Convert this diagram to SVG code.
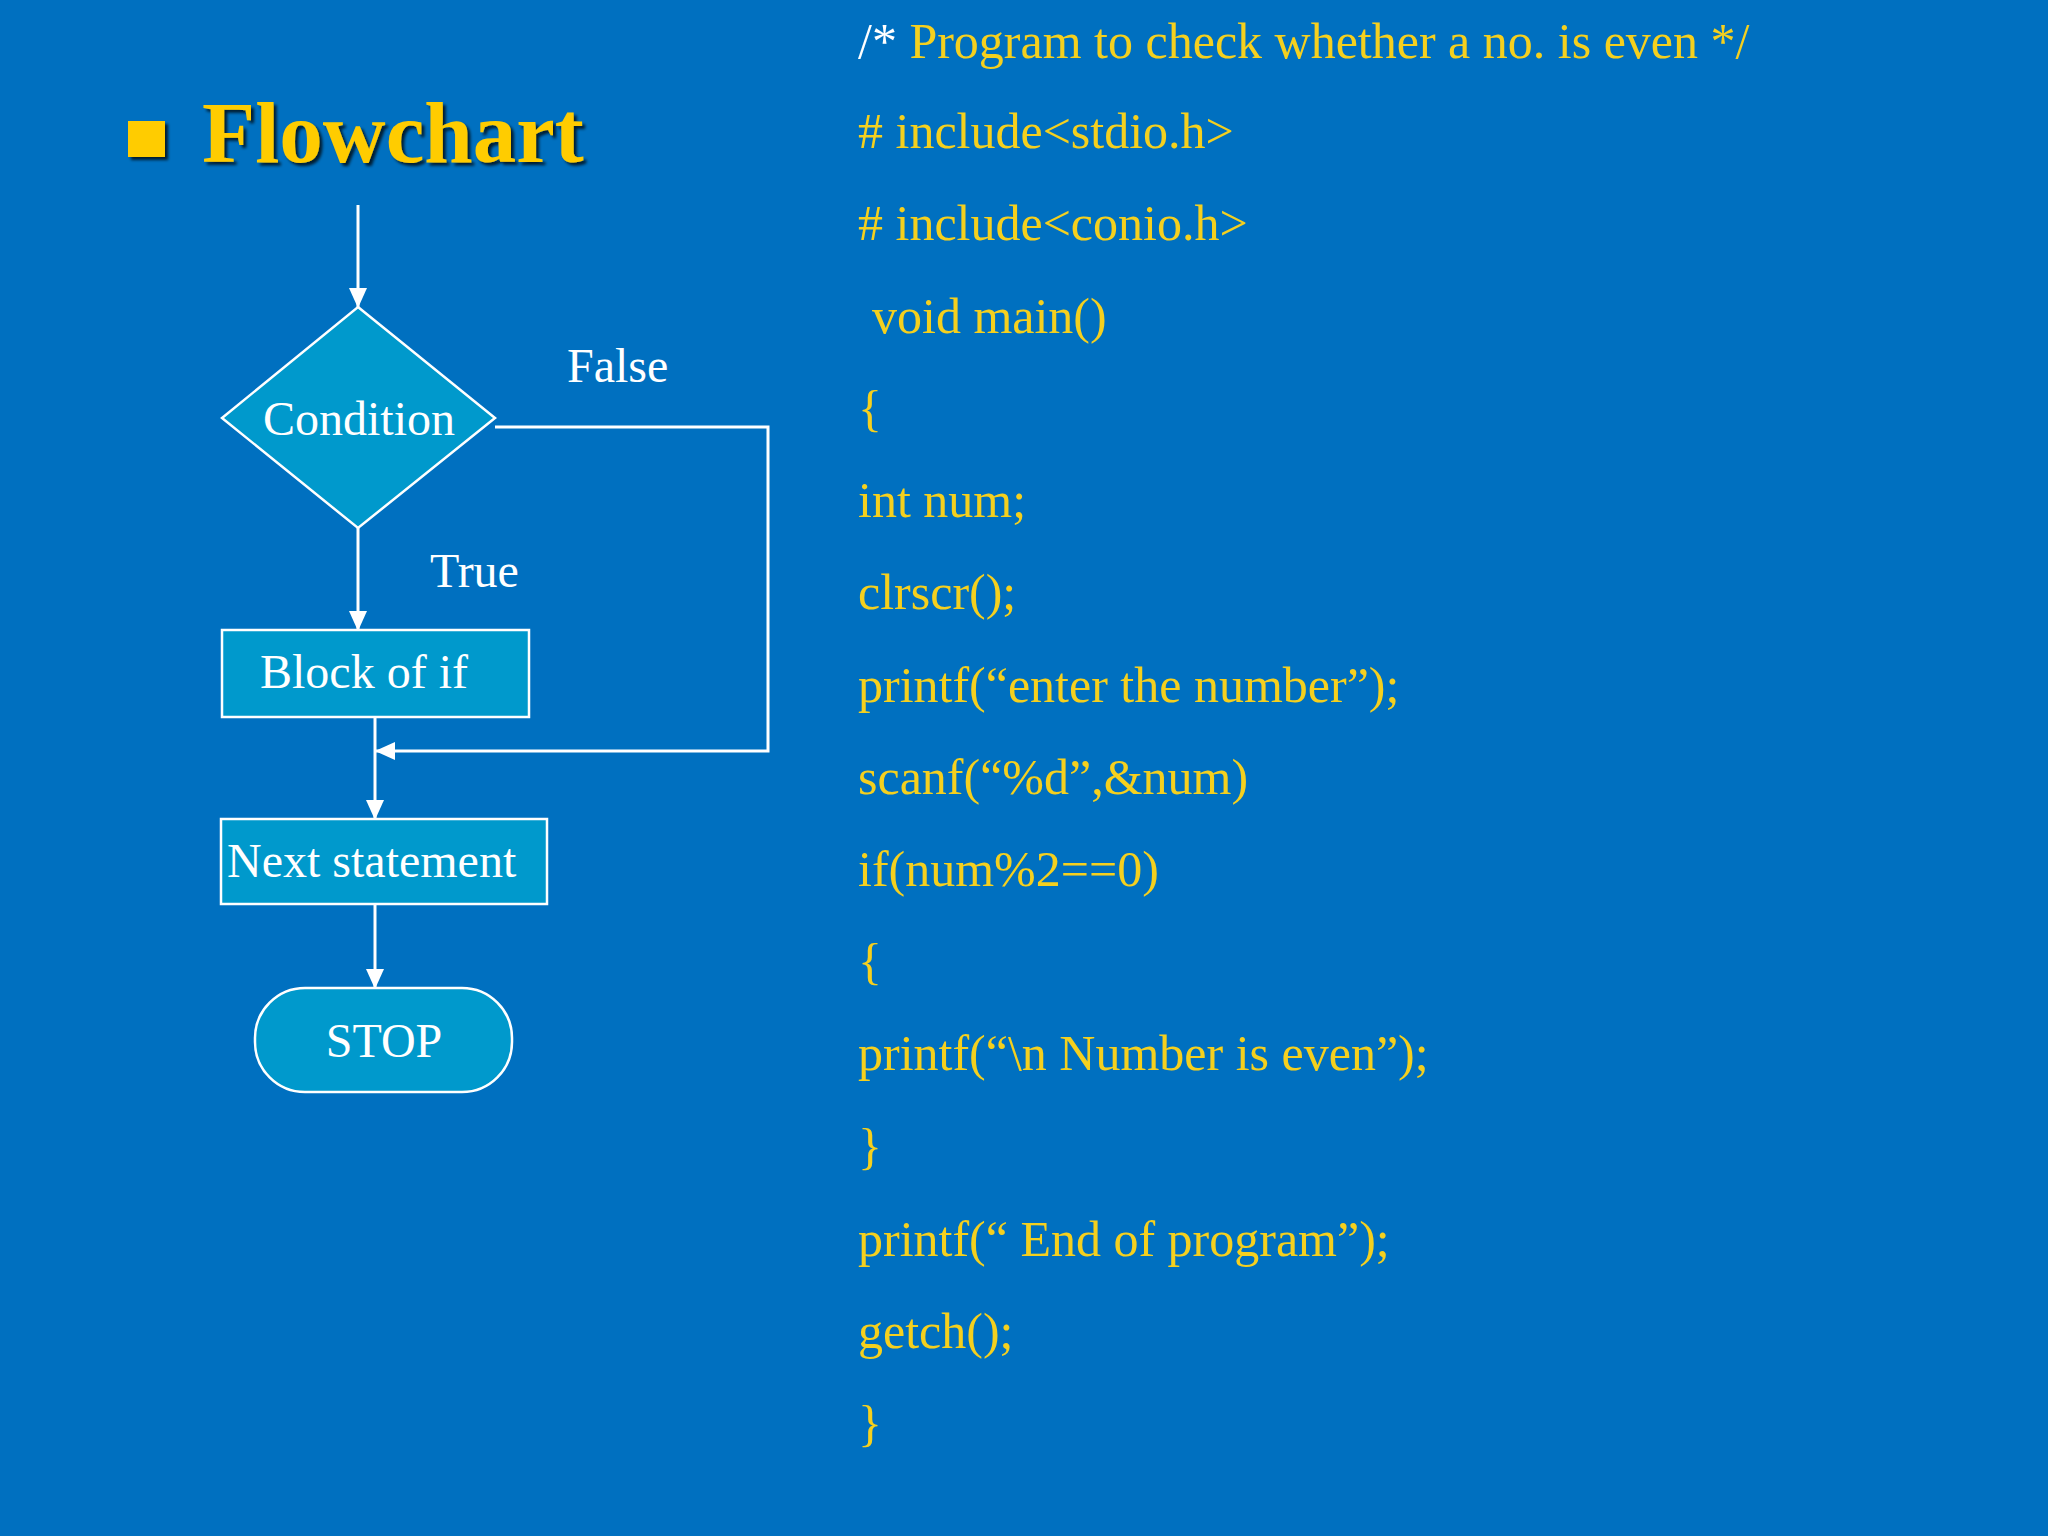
<svg xmlns="http://www.w3.org/2000/svg" width="2048" height="1536" viewBox="0 0 2048 1536">
  <defs>
    <marker id="arrow" markerUnits="userSpaceOnUse" markerWidth="20" markerHeight="20" viewBox="0 0 20 20" refX="19" refY="10" orient="auto">
      <path d="M0,1 L20,10 L0,19 Z" fill="#FFFFFF"/>
    </marker>
    <filter id="shadow" x="-5%" y="-10%" width="115%" height="130%">
      <feDropShadow dx="3" dy="3" stdDeviation="1.5" flood-color="#000000" flood-opacity="0.75"/>
    </filter>
  </defs>
  <style>
    .bg { fill: #0070C0; }
    .node { fill: #0099CC; stroke: #FFFFFF; stroke-width: 2.5; }
    .label { font-family: "Liberation Serif", "Times New Roman", serif; font-size: 48px; fill: #FFFFFF; }
    .conn { fill: none; stroke: #FFFFFF; stroke-width: 3; }
    .code { font-family: "Liberation Serif", "Times New Roman", serif; font-size: 50px; fill: #F5D01E; }
    .title { font-family: "Liberation Serif", "Times New Roman", serif; font-size: 87px; font-weight: bold; fill: #FFCC00; }
  </style>

  <rect class="bg" x="0" y="0" width="2048" height="1536"/>

  <!-- Title -->
  <g id="title" filter="url(#shadow)">
    <rect x="128" y="121" width="37" height="36" fill="#FFCC00"/>
    <text class="title" x="202" y="162">Flowchart</text>
  </g>

  <!-- Connectors -->
  <g id="connectors">
    <path class="conn" d="M358,205 L358,307" marker-end="url(#arrow)"/>
    <path class="conn" d="M358,528 L358,630" marker-end="url(#arrow)"/>
    <path class="conn" d="M375,717 L375,819" marker-end="url(#arrow)"/>
    <path class="conn" d="M495,427 L768,427 L768,751 L376,751" marker-end="url(#arrow)"/>
    <path class="conn" d="M375,904 L375,988" marker-end="url(#arrow)"/>
  </g>

  <!-- Nodes -->
  <g id="condition">
    <polygon class="node" points="358,307 495,418 358,528 222,418"/>
    <text class="label" x="359" y="435" text-anchor="middle">Condition</text>
  </g>
  <g id="block-of-if">
    <rect class="node" x="222" y="630" width="307" height="87"/>
    <text class="label" x="260" y="688">Block of  if</text>
  </g>
  <g id="next-statement">
    <rect class="node" x="221" y="819" width="326" height="85"/>
    <text class="label" x="227" y="877" font-size="49">Next statement</text>
  </g>
  <g id="stop">
    <rect class="node" x="255" y="988" width="257" height="104" rx="50" ry="50"/>
    <text class="label" x="384" y="1057" text-anchor="middle" font-size="50">STOP</text>
  </g>

  <!-- Edge labels -->
  <g id="edge-labels">
    <text class="label" x="567" y="382">False</text>
    <text class="label" x="430" y="587">True</text>
  </g>

  <!-- Code -->
  <g id="code">
    <text class="code" x="858" y="58"><tspan fill="#FFFFFF">/* </tspan>Program to check whether a no. is even */</text>
    <text class="code" x="858" y="148"># include&lt;stdio.h&gt;</text>
    <text class="code" x="858" y="240"># include&lt;conio.h&gt;</text>
    <text class="code" x="872" y="333">void main()</text>
    <text class="code" x="858" y="425">{</text>
    <text class="code" x="858" y="517">int num;</text>
    <text class="code" x="858" y="609">clrscr();</text>
    <text class="code" x="858" y="702">printf(“enter the number”);</text>
    <text class="code" x="858" y="794">scanf(“%d”,&amp;num)</text>
    <text class="code" x="858" y="886">if(num%2==0)</text>
    <text class="code" x="858" y="978">{</text>
    <text class="code" x="858" y="1070">printf(“\n Number is even”);</text>
    <text class="code" x="858" y="1163">}</text>
    <text class="code" x="858" y="1256">printf(“ End of  program”);</text>
    <text class="code" x="858" y="1348">getch();</text>
    <text class="code" x="858" y="1440">}</text>
  </g>
</svg>
